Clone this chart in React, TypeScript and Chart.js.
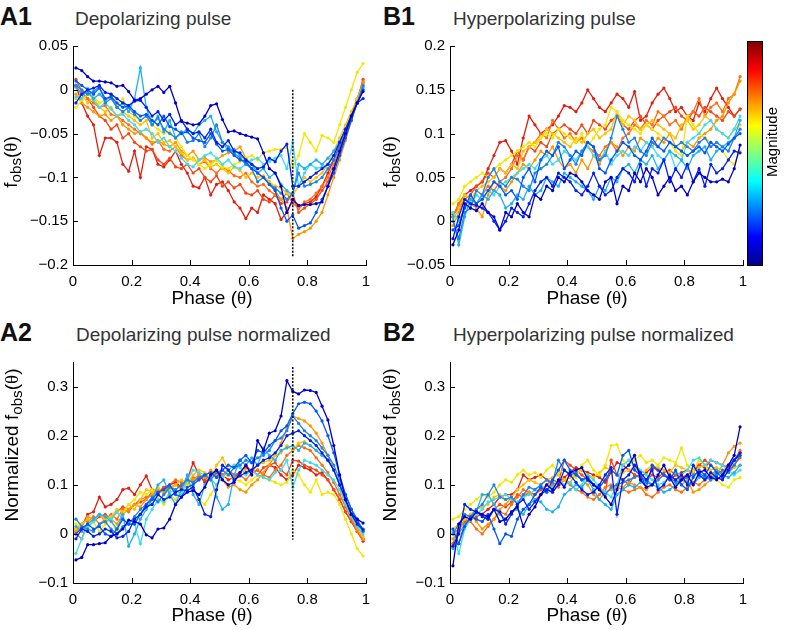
import React, { useEffect, useRef } from "react";
import { Chart, registerables } from "chart.js";

Chart.register(...registerables);

// ---------------- DATA ----------------
const PHASE = [0.01, 0.03, 0.05, 0.07, 0.09, 0.11, 0.13, 0.15, 0.17, 0.19, 0.21, 0.23, 0.25, 0.27, 0.29, 0.31, 0.33, 0.35, 0.37, 0.39, 0.41, 0.43, 0.45, 0.47, 0.49, 0.51, 0.53, 0.55, 0.57, 0.59, 0.61, 0.63, 0.65, 0.67, 0.69, 0.71, 0.73, 0.75, 0.77, 0.79, 0.81, 0.83, 0.85, 0.87, 0.89, 0.91, 0.93, 0.95, 0.97, 0.99];

const X_TICKS = [0, 0.2, 0.4, 0.6, 0.8, 1];
const A1_Y_TICKS = [-0.2, -0.15, -0.1, -0.05, 0, 0.05];
const B1_Y_TICKS = [-0.05, 0, 0.05, 0.1, 0.15, 0.2];
const NORM_Y_TICKS = [-0.1, 0, 0.1, 0.2, 0.3];

const STIM_PHASE = 0.75;
const A1_VLINE = [0, -0.19];
const A2_VLINE = [0.34, -0.012];

// magnitude levels, low (blue) -> high (red)
const MAG_COLORS = ["#0000c8", "#0020f0", "#0058f8", "#1e82e6", "#1eb0f0", "#3cdcf0", "#f5e600", "#ffc000", "#ff9600", "#ff6e14", "#f54614", "#e11e0f"];

// A1 Depolarizing pulse
const A1_M1 = [0.025, 0.022, 0.015, 0.010, 0.010, 0.009, 0.008, 0.004, 0.005, -0.002, -0.012, -0.010, -0.005, 0.000, 0.004, -0.003, 0.004, -0.015, -0.036, -0.038, -0.040, -0.039, -0.030, -0.018, -0.016, -0.034, -0.048, -0.047, -0.050, -0.052, -0.054, -0.056, -0.072, -0.090, -0.095, -0.110, -0.140, -0.125, -0.132, -0.131, -0.131, -0.130, -0.128, -0.110, -0.090, -0.070, -0.050, -0.030, -0.015, -0.002];
const A1_M2 = [-0.015, -0.005, 0.000, 0.002, 0.005, -0.003, -0.005, -0.010, -0.015, -0.018, -0.013, -0.012, -0.020, -0.030, -0.025, -0.035, -0.028, -0.040, -0.035, -0.045, -0.050, -0.048, -0.055, -0.045, -0.060, -0.065, -0.058, -0.070, -0.072, -0.080, -0.085, -0.090, -0.088, -0.078, -0.082, -0.070, -0.062, -0.110, -0.110, -0.105, -0.100, -0.095, -0.090, -0.085, -0.075, -0.060, -0.045, -0.030, -0.015, -0.010];
const A1_M3 = [0.010, 0.005, 0.000, -0.005, 0.002, -0.010, -0.008, -0.015, -0.020, -0.018, -0.025, -0.030, -0.028, -0.035, -0.040, -0.030, -0.042, -0.045, -0.050, -0.048, -0.055, -0.058, -0.060, -0.050, -0.062, -0.070, -0.068, -0.075, -0.080, -0.082, -0.090, -0.095, -0.100, -0.108, -0.115, -0.135, -0.150, -0.143, -0.158, -0.155, -0.152, -0.140, -0.125, -0.110, -0.095, -0.075, -0.055, -0.035, -0.015, 0.000];
const A1_M4 = [0.005, 0.000, -0.005, -0.002, 0.004, -0.015, -0.010, -0.020, -0.025, -0.020, -0.028, -0.035, -0.030, -0.040, -0.032, -0.045, -0.050, -0.055, -0.048, -0.060, -0.058, -0.050, -0.065, -0.055, -0.040, -0.060, -0.065, -0.072, -0.078, -0.085, -0.090, -0.105, -0.100, -0.108, -0.112, -0.118, -0.125, -0.118, -0.095, -0.110, -0.108, -0.105, -0.100, -0.090, -0.080, -0.065, -0.050, -0.032, -0.015, 0.005];
const A1_M5 = [0.003, -0.005, -0.003, -0.010, -0.005, -0.012, -0.008, -0.020, -0.015, -0.025, -0.010, 0.025, -0.020, -0.040, -0.030, -0.048, -0.035, -0.055, -0.050, -0.045, -0.050, -0.040, -0.035, -0.030, -0.048, -0.060, -0.070, -0.068, -0.075, -0.080, -0.085, -0.095, -0.090, -0.100, -0.095, -0.108, -0.115, -0.120, -0.085, -0.090, -0.085, -0.080, -0.085, -0.078, -0.070, -0.060, -0.045, -0.030, -0.015, 0.003];
const A1_M6 = [-0.008, -0.010, 0.002, -0.012, -0.020, -0.015, -0.022, -0.030, -0.028, -0.035, -0.040, -0.048, -0.045, -0.050, -0.060, -0.055, -0.065, -0.070, -0.078, -0.085, -0.088, -0.080, -0.075, -0.072, -0.078, -0.085, -0.080, -0.088, -0.090, -0.085, -0.080, -0.078, -0.085, -0.082, -0.078, -0.075, -0.090, -0.060, -0.110, -0.095, -0.085, -0.090, -0.088, -0.085, -0.075, -0.060, -0.045, -0.030, -0.015, 0.000];
const A1_M7 = [-0.020, -0.012, -0.005, -0.008, -0.015, -0.012, -0.005, -0.018, -0.010, -0.025, -0.030, -0.035, -0.030, -0.040, -0.045, -0.050, -0.048, -0.055, -0.065, -0.075, -0.080, -0.085, -0.090, -0.085, -0.080, -0.088, -0.090, -0.085, -0.082, -0.078, -0.075, -0.080, -0.072, -0.070, -0.068, -0.068, -0.066, -0.088, -0.075, -0.050, -0.060, -0.070, -0.052, -0.055, -0.060, -0.040, -0.020, 0.000, 0.020, 0.030];
const A1_M8 = [-0.010, -0.005, -0.015, -0.008, -0.020, -0.025, -0.020, -0.030, -0.025, -0.030, -0.035, -0.040, -0.035, -0.055, -0.050, -0.060, -0.058, -0.065, -0.072, -0.080, -0.078, -0.085, -0.080, -0.088, -0.085, -0.090, -0.095, -0.088, -0.092, -0.100, -0.095, -0.100, -0.098, -0.105, -0.110, -0.112, -0.118, -0.120, -0.110, -0.100, -0.105, -0.100, -0.095, -0.085, -0.070, -0.055, -0.040, -0.025, -0.010, 0.005];
const A1_M9 = [-0.005, -0.015, -0.020, -0.025, -0.030, -0.028, -0.035, -0.030, -0.040, -0.045, -0.050, -0.048, -0.055, -0.060, -0.058, -0.062, -0.065, -0.060, -0.070, -0.075, -0.070, -0.080, -0.078, -0.082, -0.080, -0.075, -0.072, -0.070, -0.065, -0.078, -0.085, -0.095, -0.100, -0.105, -0.115, -0.125, -0.135, -0.170, -0.165, -0.162, -0.158, -0.150, -0.140, -0.120, -0.100, -0.080, -0.058, -0.035, -0.012, 0.008];
const A1_M10 = [0.005, -0.005, -0.010, -0.015, -0.020, -0.018, -0.028, -0.030, -0.035, -0.040, -0.045, -0.050, -0.055, -0.062, -0.058, -0.068, -0.070, -0.065, -0.075, -0.080, -0.078, -0.085, -0.082, -0.090, -0.095, -0.088, -0.092, -0.098, -0.100, -0.095, -0.105, -0.110, -0.108, -0.115, -0.120, -0.125, -0.118, -0.130, -0.135, -0.128, -0.125, -0.118, -0.110, -0.100, -0.085, -0.068, -0.050, -0.030, -0.012, 0.010];
const A1_M11 = [0.012, -0.002, -0.010, -0.020, -0.030, -0.035, -0.045, -0.040, -0.055, -0.050, -0.060, -0.065, -0.070, -0.068, -0.080, -0.085, -0.078, -0.088, -0.090, -0.085, -0.095, -0.090, -0.100, -0.105, -0.098, -0.110, -0.105, -0.112, -0.108, -0.118, -0.120, -0.115, -0.125, -0.128, -0.120, -0.130, -0.128, -0.118, -0.140, -0.135, -0.130, -0.125, -0.115, -0.105, -0.090, -0.072, -0.052, -0.032, -0.012, 0.012];
const A1_M12 = [0.005, -0.015, -0.030, -0.040, -0.075, -0.055, -0.055, -0.060, -0.085, -0.093, -0.070, -0.100, -0.065, -0.068, -0.085, -0.088, -0.080, -0.070, -0.085, -0.095, -0.110, -0.112, -0.100, -0.120, -0.108, -0.105, -0.115, -0.128, -0.135, -0.147, -0.135, -0.140, -0.120, -0.125, -0.130, -0.148, -0.140, -0.125, -0.135, -0.130, -0.128, -0.122, -0.110, -0.095, -0.080, -0.062, -0.045, -0.028, -0.010, 0.008];

// B1 Hyperpolarizing pulse
const B1_M1 = [-0.027, -0.010, 0.020, 0.015, 0.012, 0.020, 0.010, 0.005, -0.010, 0.010, 0.005, 0.020, 0.010, 0.005, 0.030, 0.025, 0.040, 0.035, 0.050, 0.045, 0.055, 0.052, 0.045, 0.035, 0.030, 0.025, 0.045, 0.050, 0.020, 0.040, 0.035, 0.055, 0.045, 0.060, 0.050, 0.030, 0.040, 0.050, 0.035, 0.040, 0.030, 0.045, 0.055, 0.050, 0.045, 0.045, 0.048, 0.045, 0.060, 0.087];
const B1_M2 = [-0.020, 0.005, 0.025, 0.020, 0.018, 0.015, 0.010, 0.000, -0.010, 0.000, 0.015, 0.010, 0.005, 0.020, 0.035, 0.045, 0.050, 0.040, 0.055, 0.050, 0.045, 0.035, 0.030, 0.040, 0.055, 0.040, 0.030, 0.035, 0.050, 0.060, 0.055, 0.045, 0.065, 0.040, 0.060, 0.055, 0.070, 0.045, 0.060, 0.050, 0.065, 0.045, 0.060, 0.040, 0.065, 0.055, 0.060, 0.070, 0.080, 0.078];
const B1_M3 = [-0.010, -0.005, 0.015, 0.030, 0.020, 0.025, 0.035, 0.045, 0.040, 0.030, 0.035, 0.025, 0.050, 0.060, 0.045, 0.070, 0.080, 0.075, 0.085, 0.060, 0.070, 0.080, 0.075, 0.090, 0.085, 0.060, 0.055, 0.070, 0.080, 0.090, 0.085, 0.075, 0.070, 0.080, 0.095, 0.085, 0.080, 0.090, 0.085, 0.080, 0.075, 0.080, 0.085, 0.078, 0.090, 0.085, 0.080, 0.088, 0.095, 0.100];
const B1_M4 = [0.000, -0.020, 0.010, 0.015, 0.035, 0.030, 0.050, 0.060, 0.045, 0.040, 0.050, 0.048, 0.040, 0.035, 0.055, 0.060, 0.065, 0.075, 0.090, 0.085, 0.075, 0.065, 0.080, 0.090, 0.085, 0.070, 0.075, 0.095, 0.120, 0.105, 0.090, 0.095, 0.080, 0.075, 0.090, 0.085, 0.095, 0.090, 0.085, 0.090, 0.085, 0.080, 0.090, 0.095, 0.085, 0.090, 0.085, 0.080, 0.095, 0.105];
const B1_M5 = [0.005, -0.027, 0.005, 0.025, 0.020, 0.030, 0.025, 0.035, 0.030, 0.015, 0.020, 0.030, 0.025, 0.040, 0.030, 0.035, 0.050, 0.045, 0.040, 0.055, 0.050, 0.045, 0.040, 0.035, 0.025, 0.040, 0.035, 0.050, 0.045, 0.060, 0.065, 0.055, 0.070, 0.065, 0.075, 0.060, 0.070, 0.080, 0.075, 0.070, 0.060, 0.075, 0.080, 0.085, 0.070, 0.080, 0.085, 0.090, 0.095, 0.115];
const B1_M6 = [0.010, 0.000, 0.015, 0.020, 0.030, 0.025, 0.035, 0.030, 0.040, 0.045, 0.050, 0.055, 0.060, 0.065, 0.060, 0.070, 0.075, 0.065, 0.070, 0.080, 0.075, 0.070, 0.080, 0.085, 0.075, 0.070, 0.080, 0.065, 0.075, 0.080, 0.075, 0.085, 0.080, 0.090, 0.085, 0.075, 0.070, 0.080, 0.060, 0.070, 0.090, 0.095, 0.100, 0.110, 0.115, 0.105, 0.100, 0.095, 0.105, 0.120];
const B1_M7 = [0.020, 0.025, 0.040, 0.045, 0.050, 0.055, 0.050, 0.060, 0.065, 0.070, 0.075, 0.080, 0.085, 0.090, 0.085, 0.095, 0.100, 0.095, 0.105, 0.100, 0.095, 0.090, 0.100, 0.085, 0.095, 0.105, 0.110, 0.130, 0.125, 0.115, 0.110, 0.105, 0.100, 0.110, 0.105, 0.100, 0.095, 0.090, 0.080, 0.075, 0.120, 0.110, 0.100, 0.095, 0.090, 0.085, 0.080, 0.070, 0.065, 0.080];
const B1_M8 = [0.000, 0.015, 0.030, 0.025, 0.035, 0.040, 0.045, 0.050, 0.060, 0.055, 0.065, 0.060, 0.080, 0.085, 0.090, 0.095, 0.105, 0.100, 0.095, 0.090, 0.085, 0.095, 0.090, 0.100, 0.105, 0.095, 0.100, 0.105, 0.125, 0.110, 0.120, 0.115, 0.105, 0.110, 0.115, 0.110, 0.105, 0.100, 0.095, 0.110, 0.115, 0.105, 0.110, 0.120, 0.115, 0.105, 0.100, 0.095, 0.105, 0.110];
const B1_M9 = [-0.005, 0.010, 0.025, 0.020, 0.015, 0.005, 0.030, 0.045, 0.040, 0.035, 0.045, 0.055, 0.065, 0.060, 0.070, 0.080, 0.075, 0.085, 0.070, 0.060, 0.065, 0.055, 0.070, 0.060, 0.075, 0.065, 0.080, 0.090, 0.085, 0.075, 0.085, 0.080, 0.095, 0.090, 0.085, 0.095, 0.090, 0.100, 0.085, 0.080, 0.090, 0.085, 0.095, 0.100, 0.105, 0.115, 0.120, 0.135, 0.145, 0.160];
const B1_M10 = [0.005, 0.020, 0.030, 0.025, 0.020, 0.030, 0.040, 0.035, 0.045, 0.050, 0.060, 0.075, 0.070, 0.085, 0.090, 0.100, 0.095, 0.115, 0.105, 0.095, 0.100, 0.090, 0.095, 0.085, 0.080, 0.075, 0.085, 0.090, 0.080, 0.095, 0.100, 0.110, 0.105, 0.115, 0.110, 0.125, 0.120, 0.110, 0.115, 0.105, 0.120, 0.125, 0.140, 0.120, 0.130, 0.135, 0.125, 0.140, 0.145, 0.165];
const B1_M11 = [0.008, 0.015, 0.025, 0.030, 0.040, 0.045, 0.055, 0.050, 0.060, 0.055, 0.065, 0.080, 0.070, 0.085, 0.080, 0.090, 0.085, 0.100, 0.105, 0.110, 0.105, 0.100, 0.110, 0.100, 0.115, 0.110, 0.105, 0.115, 0.120, 0.110, 0.105, 0.115, 0.120, 0.110, 0.105, 0.115, 0.120, 0.125, 0.130, 0.120, 0.115, 0.125, 0.120, 0.130, 0.125, 0.120, 0.115, 0.125, 0.120, 0.128];
const B1_M12 = [0.005, 0.020, 0.030, 0.035, 0.040, 0.045, 0.060, 0.075, 0.090, 0.092, 0.080, 0.065, 0.095, 0.120, 0.110, 0.100, 0.105, 0.110, 0.120, 0.132, 0.130, 0.125, 0.135, 0.150, 0.140, 0.130, 0.125, 0.135, 0.145, 0.140, 0.130, 0.148, 0.115, 0.120, 0.135, 0.145, 0.152, 0.140, 0.125, 0.130, 0.120, 0.115, 0.135, 0.125, 0.140, 0.152, 0.140, 0.130, 0.120, 0.128];

// A2 Depolarizing pulse normalized
const A2_M1 = [-0.053, -0.048, -0.022, -0.022, -0.020, -0.018, -0.005, 0.000, 0.010, 0.028, 0.025, 0.020, -0.002, -0.008, 0.010, 0.012, 0.030, 0.060, 0.075, 0.085, 0.088, 0.080, 0.095, 0.120, 0.130, 0.110, 0.100, 0.105, 0.125, 0.140, 0.120, 0.190, 0.170, 0.205, 0.210, 0.240, 0.312, 0.290, 0.285, 0.293, 0.292, 0.288, 0.260, 0.232, 0.180, 0.120, 0.070, 0.040, 0.030, 0.022];
const A2_M2 = [-0.010, 0.010, 0.005, -0.005, 0.000, 0.010, 0.005, -0.008, -0.005, 0.005, 0.030, 0.040, 0.055, 0.060, 0.080, 0.070, 0.075, 0.085, 0.090, 0.088, 0.095, 0.070, 0.040, 0.035, 0.090, 0.140, 0.130, 0.110, 0.118, 0.125, 0.130, 0.140, 0.150, 0.155, 0.165, 0.180, 0.200, 0.205, 0.210, 0.200, 0.190, 0.180, 0.165, 0.150, 0.130, 0.100, 0.070, 0.040, 0.020, 0.008];
const A2_M3 = [0.000, 0.012, 0.020, 0.010, 0.015, 0.000, -0.005, 0.010, 0.030, 0.020, 0.020, 0.040, 0.060, 0.070, 0.085, 0.090, 0.100, 0.080, 0.075, 0.095, 0.100, 0.110, 0.120, 0.125, 0.115, 0.130, 0.140, 0.135, 0.150, 0.160, 0.145, 0.170, 0.165, 0.180, 0.190, 0.210, 0.220, 0.245, 0.265, 0.268, 0.265, 0.250, 0.230, 0.200, 0.165, 0.120, 0.080, 0.050, 0.025, 0.010];
const A2_M4 = [0.030, 0.015, 0.010, 0.005, 0.020, 0.025, 0.010, 0.000, 0.015, 0.020, 0.035, 0.050, 0.060, 0.075, 0.065, 0.080, 0.095, 0.090, 0.100, 0.110, 0.105, 0.115, 0.120, 0.110, 0.125, 0.130, 0.120, 0.135, 0.140, 0.150, 0.145, 0.155, 0.160, 0.170, 0.190, 0.195, 0.210, 0.240, 0.225, 0.210, 0.200, 0.190, 0.175, 0.160, 0.140, 0.110, 0.080, 0.050, 0.030, 0.005];
const A2_M5 = [0.015, 0.005, 0.020, 0.030, 0.040, 0.035, 0.025, 0.010, 0.040, -0.025, 0.000, 0.030, 0.050, 0.070, 0.100, 0.110, 0.080, 0.060, 0.090, 0.120, 0.080, 0.060, 0.100, 0.115, 0.075, 0.050, 0.060, 0.120, 0.150, 0.140, 0.155, 0.140, 0.175, 0.160, 0.150, 0.170, 0.175, 0.180, 0.170, 0.185, 0.180, 0.170, 0.160, 0.150, 0.130, 0.100, 0.070, 0.040, 0.020, 0.005];
const A2_M6 = [-0.040, -0.010, 0.015, 0.025, 0.040, 0.035, 0.030, 0.045, 0.030, 0.020, 0.020, -0.020, 0.030, 0.050, 0.070, 0.065, 0.085, 0.090, 0.080, 0.110, 0.130, 0.125, 0.120, 0.110, 0.100, 0.115, 0.130, 0.140, 0.135, 0.120, 0.130, 0.120, 0.115, 0.110, 0.125, 0.130, 0.150, 0.095, 0.130, 0.150, 0.145, 0.140, 0.130, 0.120, 0.110, 0.090, 0.060, 0.035, 0.015, 0.000];
const A2_M7 = [0.020, 0.015, 0.010, 0.025, 0.005, 0.020, 0.030, 0.000, 0.040, 0.060, 0.070, 0.085, 0.080, 0.090, 0.075, 0.060, 0.080, 0.070, 0.090, 0.100, 0.095, 0.070, 0.060, 0.080, 0.100, 0.115, 0.120, 0.110, 0.108, 0.100, 0.110, 0.120, 0.115, 0.110, 0.105, 0.100, 0.105, 0.130, 0.120, 0.100, 0.085, 0.110, 0.080, 0.085, 0.080, 0.060, 0.030, 0.000, -0.030, -0.045];
const A2_M8 = [0.010, 0.020, 0.030, 0.025, 0.040, 0.030, 0.035, 0.050, 0.045, 0.060, 0.050, 0.070, 0.090, 0.085, 0.095, 0.080, 0.090, 0.100, 0.110, 0.105, 0.120, 0.130, 0.125, 0.110, 0.140, 0.155, 0.130, 0.140, 0.135, 0.130, 0.125, 0.140, 0.145, 0.150, 0.160, 0.165, 0.180, 0.170, 0.185, 0.188, 0.180, 0.170, 0.160, 0.150, 0.130, 0.100, 0.070, 0.040, 0.015, -0.005];
const A2_M9 = [0.005, 0.015, 0.035, 0.030, 0.040, 0.025, 0.030, 0.020, 0.040, 0.050, 0.060, 0.055, 0.070, 0.080, 0.090, 0.085, 0.095, 0.100, 0.090, 0.105, 0.110, 0.120, 0.115, 0.130, 0.120, 0.110, 0.095, 0.100, 0.090, 0.085, 0.100, 0.110, 0.125, 0.140, 0.160, 0.185, 0.215, 0.240, 0.235, 0.230, 0.220, 0.205, 0.185, 0.160, 0.130, 0.100, 0.065, 0.035, 0.010, -0.010];
const A2_M10 = [0.000, -0.010, 0.025, 0.035, 0.020, 0.030, 0.040, 0.030, 0.050, 0.045, 0.060, 0.070, 0.075, 0.080, 0.090, 0.085, 0.100, 0.110, 0.105, 0.100, 0.115, 0.110, 0.120, 0.125, 0.115, 0.120, 0.130, 0.115, 0.120, 0.110, 0.125, 0.130, 0.120, 0.115, 0.130, 0.140, 0.160, 0.170, 0.180, 0.175, 0.170, 0.155, 0.140, 0.125, 0.105, 0.080, 0.055, 0.030, 0.005, -0.012];
const A2_M11 = [0.010, 0.020, 0.030, 0.025, 0.035, 0.040, 0.030, 0.045, 0.055, 0.050, 0.060, 0.065, 0.070, 0.085, 0.080, 0.095, 0.090, 0.100, 0.095, 0.110, 0.105, 0.115, 0.110, 0.120, 0.125, 0.115, 0.130, 0.120, 0.125, 0.135, 0.130, 0.120, 0.135, 0.140, 0.145, 0.130, 0.120, 0.150, 0.148, 0.140, 0.135, 0.130, 0.120, 0.110, 0.090, 0.070, 0.045, 0.025, 0.005, -0.010];
const A2_M12 = [0.005, 0.015, 0.040, 0.045, 0.075, 0.055, 0.060, 0.070, 0.090, 0.093, 0.080, 0.100, 0.118, 0.090, 0.085, 0.095, 0.100, 0.105, 0.095, 0.110, 0.145, 0.120, 0.105, 0.115, 0.130, 0.120, 0.110, 0.115, 0.125, 0.140, 0.125, 0.130, 0.120, 0.140, 0.135, 0.120, 0.110, 0.120, 0.140, 0.135, 0.130, 0.120, 0.125, 0.110, 0.090, 0.070, 0.045, 0.025, 0.005, -0.015];

// B2 Hyperpolarizing pulse normalized
const B2_M1 = [-0.065, 0.020, 0.035, 0.030, 0.045, 0.040, 0.035, 0.050, 0.025, 0.030, 0.045, 0.055, 0.015, 0.040, 0.055, 0.080, 0.100, 0.090, 0.110, 0.095, 0.125, 0.130, 0.135, 0.110, 0.100, 0.090, 0.075, 0.060, 0.090, 0.130, 0.140, 0.160, 0.110, 0.095, 0.100, 0.120, 0.140, 0.115, 0.095, 0.110, 0.120, 0.100, 0.125, 0.130, 0.115, 0.110, 0.120, 0.140, 0.160, 0.218];
const B2_M2 = [-0.025, 0.000, 0.060, 0.050, 0.045, 0.035, 0.030, 0.050, 0.045, 0.020, 0.040, 0.060, 0.070, 0.050, 0.065, 0.080, 0.090, 0.085, 0.100, 0.130, 0.120, 0.105, 0.090, 0.080, 0.085, 0.100, 0.120, 0.135, 0.040, 0.110, 0.120, 0.140, 0.125, 0.110, 0.130, 0.090, 0.100, 0.120, 0.110, 0.120, 0.100, 0.140, 0.120, 0.110, 0.125, 0.115, 0.110, 0.130, 0.150, 0.165];
const B2_M3 = [0.010, -0.020, 0.015, 0.035, 0.030, 0.025, 0.040, 0.010, -0.020, 0.000, -0.005, 0.030, 0.050, 0.060, 0.080, 0.095, 0.085, 0.110, 0.130, 0.150, 0.130, 0.120, 0.110, 0.115, 0.100, 0.095, 0.110, 0.130, 0.120, 0.160, 0.170, 0.130, 0.120, 0.095, 0.140, 0.130, 0.120, 0.110, 0.130, 0.100, 0.090, 0.115, 0.130, 0.120, 0.140, 0.125, 0.115, 0.140, 0.150, 0.160];
const B2_M4 = [0.000, 0.020, 0.040, 0.035, 0.050, 0.060, 0.080, 0.100, 0.075, 0.070, 0.075, 0.060, 0.080, 0.095, 0.090, 0.100, 0.110, 0.105, 0.150, 0.130, 0.120, 0.125, 0.110, 0.115, 0.100, 0.090, 0.080, 0.095, 0.100, 0.105, 0.110, 0.115, 0.120, 0.105, 0.100, 0.110, 0.120, 0.115, 0.105, 0.110, 0.115, 0.120, 0.125, 0.115, 0.110, 0.120, 0.130, 0.125, 0.140, 0.160];
const B2_M5 = [-0.030, 0.000, 0.020, 0.030, 0.045, 0.080, 0.080, 0.060, 0.040, 0.030, 0.045, 0.050, 0.040, 0.060, 0.070, 0.065, 0.050, 0.045, 0.055, 0.080, 0.090, 0.100, 0.095, 0.110, 0.090, 0.070, 0.060, 0.050, 0.080, 0.090, 0.100, 0.095, 0.105, 0.110, 0.100, 0.095, 0.085, 0.090, 0.100, 0.110, 0.105, 0.100, 0.115, 0.120, 0.110, 0.130, 0.120, 0.115, 0.125, 0.140];
const B2_M6 = [0.005, -0.040, 0.010, 0.030, 0.040, 0.050, 0.065, 0.070, 0.075, 0.080, 0.070, 0.065, 0.075, 0.080, 0.090, 0.100, 0.085, 0.095, 0.110, 0.100, 0.105, 0.090, 0.100, 0.120, 0.110, 0.095, 0.085, 0.075, 0.100, 0.140, 0.150, 0.140, 0.130, 0.120, 0.110, 0.100, 0.105, 0.115, 0.125, 0.120, 0.130, 0.150, 0.155, 0.140, 0.150, 0.145, 0.140, 0.130, 0.120, 0.130];
const B2_M7 = [0.030, 0.035, 0.050, 0.060, 0.070, 0.080, 0.075, 0.085, 0.100, 0.110, 0.105, 0.120, 0.130, 0.120, 0.125, 0.115, 0.130, 0.140, 0.125, 0.130, 0.120, 0.115, 0.140, 0.150, 0.130, 0.120, 0.140, 0.180, 0.182, 0.150, 0.140, 0.150, 0.160, 0.145, 0.150, 0.140, 0.155, 0.150, 0.145, 0.175, 0.140, 0.130, 0.150, 0.140, 0.125, 0.110, 0.100, 0.095, 0.110, 0.115];
const B2_M8 = [0.010, 0.020, 0.030, 0.040, 0.050, 0.055, 0.060, 0.075, 0.080, 0.070, 0.075, 0.090, 0.100, 0.110, 0.105, 0.100, 0.110, 0.115, 0.120, 0.110, 0.115, 0.125, 0.130, 0.120, 0.115, 0.125, 0.135, 0.130, 0.120, 0.125, 0.130, 0.135, 0.125, 0.130, 0.140, 0.135, 0.130, 0.125, 0.140, 0.135, 0.130, 0.125, 0.135, 0.140, 0.130, 0.135, 0.130, 0.125, 0.135, 0.140];
const B2_M9 = [-0.010, 0.005, 0.030, 0.040, 0.025, 0.010, 0.020, 0.030, 0.050, 0.060, 0.075, 0.060, 0.080, 0.085, 0.070, 0.080, 0.090, 0.085, 0.100, 0.110, 0.105, 0.120, 0.110, 0.100, 0.080, 0.070, 0.085, 0.090, 0.100, 0.095, 0.105, 0.100, 0.095, 0.090, 0.100, 0.110, 0.120, 0.115, 0.110, 0.100, 0.110, 0.085, 0.090, 0.100, 0.110, 0.120, 0.140, 0.165, 0.178, 0.185];
const B2_M10 = [0.000, 0.010, 0.030, 0.025, 0.010, 0.000, 0.015, 0.030, 0.045, 0.040, 0.060, 0.075, 0.090, 0.085, 0.080, 0.095, 0.090, 0.100, 0.095, 0.110, 0.100, 0.090, 0.085, 0.075, 0.070, 0.080, 0.095, 0.100, 0.095, 0.090, 0.085, 0.090, 0.095, 0.080, 0.075, 0.085, 0.095, 0.100, 0.090, 0.085, 0.095, 0.105, 0.100, 0.110, 0.120, 0.130, 0.125, 0.140, 0.150, 0.170];
const B2_M11 = [-0.020, 0.010, 0.025, 0.030, 0.035, 0.040, 0.030, 0.050, 0.060, 0.055, 0.065, 0.080, 0.075, 0.085, 0.080, 0.090, 0.100, 0.110, 0.105, 0.150, 0.140, 0.130, 0.120, 0.110, 0.100, 0.090, 0.085, 0.150, 0.120, 0.110, 0.100, 0.120, 0.115, 0.110, 0.120, 0.115, 0.125, 0.130, 0.120, 0.115, 0.120, 0.130, 0.140, 0.150, 0.140, 0.130, 0.125, 0.130, 0.140, 0.155];
const B2_M12 = [-0.025, -0.020, 0.020, 0.030, 0.045, 0.040, 0.050, 0.060, 0.075, 0.080, 0.080, 0.090, 0.120, 0.110, 0.115, 0.120, 0.110, 0.100, 0.105, 0.115, 0.125, 0.135, 0.130, 0.125, 0.120, 0.115, 0.105, 0.125, 0.145, 0.140, 0.130, 0.120, 0.115, 0.125, 0.135, 0.130, 0.120, 0.110, 0.120, 0.125, 0.130, 0.125, 0.140, 0.135, 0.150, 0.145, 0.140, 0.135, 0.150, 0.165];

const A1_SERIES = [A1_M1, A1_M2, A1_M3, A1_M4, A1_M5, A1_M6, A1_M7, A1_M8, A1_M9, A1_M10, A1_M11, A1_M12];
const B1_SERIES = [B1_M1, B1_M2, B1_M3, B1_M4, B1_M5, B1_M6, B1_M7, B1_M8, B1_M9, B1_M10, B1_M11, B1_M12];
const A2_SERIES = [A2_M1, A2_M2, A2_M3, A2_M4, A2_M5, A2_M6, A2_M7, A2_M8, A2_M9, A2_M10, A2_M11, A2_M12];
const B2_SERIES = [B2_M1, B2_M2, B2_M3, B2_M4, B2_M5, B2_M6, B2_M7, B2_M8, B2_M9, B2_M10, B2_M11, B2_M12];

// ---------------- LAYOUT / STYLE ----------------
const FONT = '"Liberation Sans", Arial, Helvetica, sans-serif';
const SERIF = '"Liberation Serif", "Times New Roman", serif';
const YAXIS_W = 60;
const XAXIS_H = 30;
const PAD_T = 10;
const PAD_R = 14;

const fmtTick = (v: any) => {
  const r = Math.round(Number(v) * 1000) / 1000;
  if (r === 0) return "0";
  return r < 0 ? "\u2212" + String(-r) : String(r);
};

const inwardTicks = {
  id: "inwardTicks",
  afterDraw(chart: any) {
    const { ctx, chartArea } = chart;
    const xs = chart.scales.x;
    const ys = chart.scales.y;
    ctx.save();
    ctx.strokeStyle = "#000";
    ctx.lineWidth = 1;
    ctx.beginPath();
    xs.ticks.forEach((t: any) => {
      const px = Math.round(xs.getPixelForValue(t.value)) + 0.5;
      ctx.moveTo(px, chartArea.bottom);
      ctx.lineTo(px, chartArea.bottom - 5);
    });
    ys.ticks.forEach((t: any) => {
      const py = Math.round(ys.getPixelForValue(t.value)) + 0.5;
      ctx.moveTo(chartArea.left, py);
      ctx.lineTo(chartArea.left + 5, py);
    });
    ctx.stroke();
    ctx.restore();
  },
};

type PanelProps = {
  plotLeft: number;
  plotTop: number;
  plotW: number;
  plotH: number;
  yMin: number;
  yMax: number;
  yTicks: number[];
  series: number[][];
  vline?: number[];
};

function PanelChart(p: PanelProps) {
  const ref = useRef<HTMLCanvasElement>(null);
  const cw = p.plotW + YAXIS_W + PAD_R;
  const ch = p.plotH + PAD_T + XAXIS_H;
  useEffect(() => {
    if (!ref.current) return;
    const datasets: any[] = [];
    if (p.vline) {
      datasets.push({
        data: [
          { x: STIM_PHASE, y: p.vline[0] },
          { x: STIM_PHASE, y: p.vline[1] },
        ],
        borderColor: "#111",
        borderWidth: 1.6,
        borderDash: [2, 1.5],
        pointRadius: 0,
        fill: false,
      });
    }
    p.series.forEach((s, i) => {
      datasets.push({
        data: PHASE.map((x, j) => ({ x, y: s[j] })),
        borderColor: MAG_COLORS[i],
        backgroundColor: MAG_COLORS[i],
        pointBackgroundColor: MAG_COLORS[i],
        borderWidth: 1.3,
        pointRadius: 1.6,
        pointBorderWidth: 0,
        fill: false,
        tension: 0,
      });
    });
    const tickFont = { family: FONT, size: 15 };
    const noGrid = { display: false, drawTicks: false, tickLength: 0, drawOnChartArea: false };
    const chart = new Chart(ref.current, {
      type: "line",
      data: { datasets },
      options: {
        animation: false,
        responsive: false,
        devicePixelRatio: 1,
        layout: { padding: { top: PAD_T, right: PAD_R, left: 0, bottom: 0 } },
        plugins: { legend: { display: false }, tooltip: { enabled: false } },
        scales: {
          x: {
            type: "linear",
            min: 0,
            max: 1,
            afterBuildTicks: (a: any) => {
              a.ticks = X_TICKS.map((v) => ({ value: v }));
            },
            afterFit: (s: any) => {
              s.height = XAXIS_H;
            },
            grid: noGrid,
            border: { display: true, color: "#000", width: 1 },
            ticks: { color: "#000", font: tickFont, padding: 8, maxRotation: 0, autoSkip: false, callback: fmtTick },
          },
          y: {
            type: "linear",
            min: p.yMin,
            max: p.yMax,
            afterBuildTicks: (a: any) => {
              a.ticks = p.yTicks.map((v) => ({ value: v }));
            },
            afterFit: (s: any) => {
              s.width = YAXIS_W;
            },
            grid: noGrid,
            border: { display: true, color: "#000", width: 1 },
            ticks: { color: "#000", font: tickFont, padding: 5, autoSkip: false, callback: fmtTick },
          },
        },
      } as any,
      plugins: [inwardTicks],
    });
    return () => chart.destroy();
  }, []);
  return (
    <canvas
      ref={ref}
      width={cw}
      height={ch}
      style={{ position: "absolute", left: p.plotLeft - YAXIS_W, top: p.plotTop - PAD_T, width: cw, height: ch }}
    />
  );
}

const Theta = () => <span style={{ fontFamily: SERIF }}>θ</span>;

function Txt(props: { x: number; y: number; size: number; bold?: boolean; color?: string; anchor?: "left" | "center"; rotate?: boolean; children: any }) {
  const tx = props.anchor === "left" ? "0" : "-50%";
  return (
    <div
      style={{
        position: "absolute",
        left: props.x,
        top: props.y,
        transform: `translate(${tx}, -50%)${props.rotate ? " rotate(-90deg)" : ""}`,
        transformOrigin: "center center",
        fontFamily: FONT,
        fontSize: props.size,
        fontWeight: props.bold ? 700 : 400,
        color: props.color || "#000",
        whiteSpace: "nowrap",
        lineHeight: 1.1,
      }}
    >
      {props.children}
    </div>
  );
}

const Fobs = () => (
  <span>
    f<sub style={{ fontSize: "0.8em", verticalAlign: "-0.3em", lineHeight: 0 }}>obs</sub>(<Theta />)
  </span>
);

export default function App() {
  return (
    <div style={{ position: "absolute", left: 0, top: 0, width: 785, height: 630, background: "#fff", overflow: "hidden" }}>
      <PanelChart plotLeft={73} plotTop={42} plotW={293} plotH={223} yMin={-0.2} yMax={0.05} yTicks={A1_Y_TICKS} series={A1_SERIES} vline={A1_VLINE} />
      <PanelChart plotLeft={450} plotTop={42} plotW={293} plotH={223} yMin={-0.05} yMax={0.2} yTicks={B1_Y_TICKS} series={B1_SERIES} />
      <PanelChart plotLeft={73} plotTop={358} plotW={293} plotH={225} yMin={-0.1} yMax={0.35} yTicks={NORM_Y_TICKS} series={A2_SERIES} vline={A2_VLINE} />
      <PanelChart plotLeft={450} plotTop={358} plotW={293} plotH={225} yMin={-0.1} yMax={0.35} yTicks={NORM_Y_TICKS} series={B2_SERIES} />

      {/* colorbar */}
      <div
        style={{
          position: "absolute",
          left: 747,
          top: 41,
          width: 16,
          height: 225,
          boxSizing: "border-box",
          border: "1px solid #000",
          background: "linear-gradient(to top, #00008f 0%, #0000ff 12.5%, #00ffff 37.5%, #ffff00 62.5%, #ff0000 87.5%, #800000 100%)",
        }}
      />
      <Txt x={772} y={142} size={15} rotate>Magnitude</Txt>

      {/* panel letters */}
      <Txt x={0} y={17} size={25} bold anchor="left" color="#111">A1</Txt>
      <Txt x={383} y={17} size={25} bold anchor="left" color="#111">B1</Txt>
      <Txt x={0} y={333} size={25} bold anchor="left" color="#111">A2</Txt>
      <Txt x={383} y={333} size={25} bold anchor="left" color="#111">B2</Txt>

      {/* titles */}
      <Txt x={75} y={19} size={19} anchor="left" color="#333">Depolarizing pulse</Txt>
      <Txt x={453} y={19} size={19} anchor="left" color="#333">Hyperpolarizing pulse</Txt>
      <Txt x={76} y={335} size={19} anchor="left" color="#333">Depolarizing pulse normalized</Txt>
      <Txt x={453} y={335} size={19} anchor="left" color="#333">Hyperpolarizing pulse normalized</Txt>

      {/* x axis titles */}
      <Txt x={212} y={298} size={19}>Phase (<Theta />)</Txt>
      <Txt x={587} y={298} size={19}>Phase (<Theta />)</Txt>
      <Txt x={212} y={615} size={19}>Phase (<Theta />)</Txt>
      <Txt x={587} y={615} size={19}>Phase (<Theta />)</Txt>

      {/* y axis titles */}
      <Txt x={11} y={162} size={19} rotate><Fobs /></Txt>
      <Txt x={390} y={162} size={19} rotate><Fobs /></Txt>
      <Txt x={12} y={445} size={19} rotate>Normalized <Fobs /></Txt>
      <Txt x={390} y={445} size={19} rotate>Normalized <Fobs /></Txt>
    </div>
  );
}
